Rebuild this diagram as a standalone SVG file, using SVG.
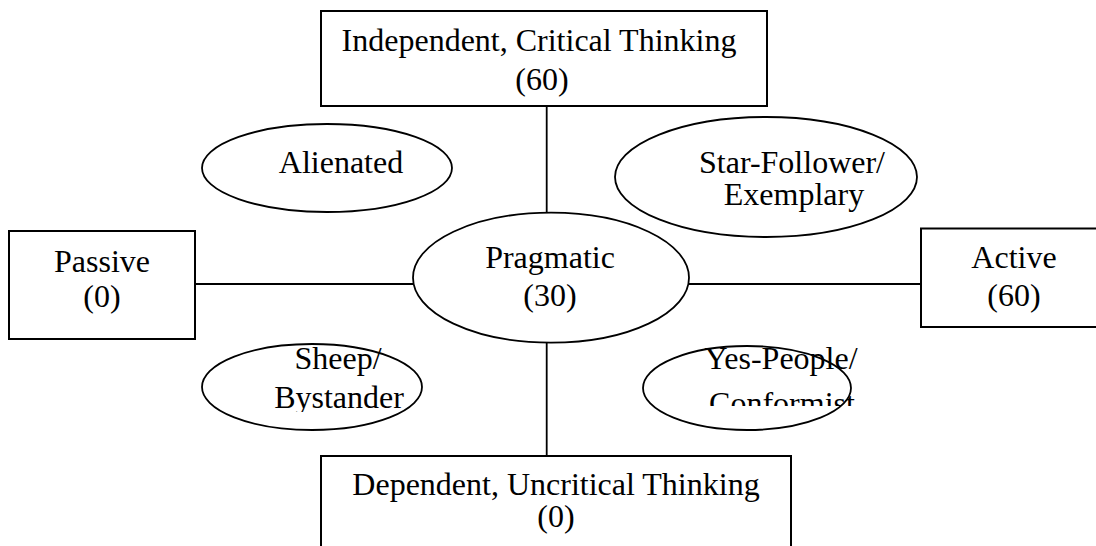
<svg xmlns="http://www.w3.org/2000/svg" width="1096" height="546" viewBox="0 0 1096 546">
<style>
.box{fill:#fff;stroke:#000;stroke-width:2}
.ell{fill:#fff;stroke:#000;stroke-width:1.8}
.ln{stroke:#000;stroke-width:1.8;fill:none}
text{font-family:"Liberation Serif","Times New Roman",serif;font-size:32px;fill:#000;text-anchor:middle}
</style>
<defs>
<clipPath id="clipConf"><rect x="600" y="330" width="300" height="76"/></clipPath>
<clipPath id="clipBys"><rect x="180" y="330" width="260" height="82"/></clipPath>
</defs>
<rect width="1096" height="546" fill="#fff"/>
<g id="connectors">
<line class="ln" x1="546.7" y1="106" x2="546.7" y2="213"/>
<line class="ln" x1="546.7" y1="342" x2="546.7" y2="456"/>
<line class="ln" x1="195" y1="284" x2="413" y2="284"/>
<line class="ln" x1="689" y1="284" x2="921" y2="284"/>
</g>
<g id="top">
<rect class="box" x="321" y="11" width="446" height="95"/>
<text x="539" y="51">Independent, Critical Thinking</text>
<text x="542" y="90">(60)</text>
</g>
<g id="passive">
<rect class="box" x="9" y="231" width="186" height="108"/>
<text x="102" y="272">Passive</text>
<text x="102" y="307">(0)</text>
</g>
<g id="active">
<rect class="box" x="921" y="228.5" width="190" height="98.5"/>
<text x="1014" y="268">Active</text>
<text x="1014" y="306">(60)</text>
</g>
<g id="bottom">
<rect class="box" x="321" y="456" width="470" height="110"/>
<text x="556" y="495">Dependent, Uncritical Thinking</text>
<text x="556" y="527">(0)</text>
</g>
<g id="pragmatic">
<ellipse class="ell" cx="551" cy="277.7" rx="138" ry="65"/>
<text x="550" y="268">Pragmatic</text>
<text x="550" y="306">(30)</text>
</g>
<g id="alienated">
<ellipse class="ell" cx="327" cy="168" rx="125" ry="44"/>
<text x="341" y="173">Alienated</text>
</g>
<g id="star">
<ellipse class="ell" cx="766" cy="177" rx="151" ry="60"/>
<text x="792" y="173">Star-Follower/</text>
<text x="794" y="205">Exemplary</text>
</g>
<g id="sheep">
<ellipse class="ell" cx="312" cy="387" rx="110" ry="43"/>
<g clip-path="url(#clipBys)">
<text x="338" y="369">Sheep/</text>
<text x="339" y="408">Bystander</text>
</g>
</g>
<g id="yes">
<ellipse class="ell" cx="747" cy="388" rx="104" ry="42"/>
<g clip-path="url(#clipConf)">
<text x="781" y="369">Yes-People/</text>
<text x="782" y="414">Conformist</text>
</g>
</g>
</svg>
